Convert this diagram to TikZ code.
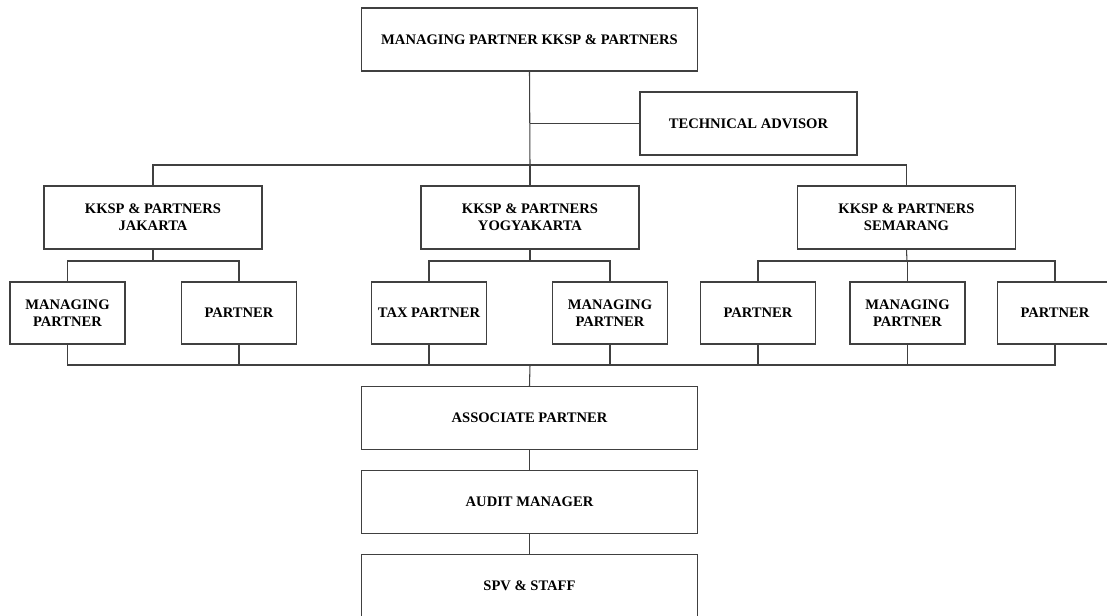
\documentclass[tikz,border=0pt]{standalone}
\usepackage{fontspec}
\setmainfont{Liberation Serif}
\tikzset{
  unit/.style={draw=black!75, line width=0.6pt, align=center, inner sep=1pt,
    font=\fontsize{8.3}{9.6}\selectfont\bfseries},
  wide/.style={unit, minimum width=6.74cm, minimum height=1.26cm},
  office/.style={unit, minimum width=4.36cm, minimum height=1.26cm},
  post/.style={unit, minimum width=2.3cm, minimum height=1.24cm},
  link/.style={draw=black!75, line width=0.6pt}
}
\begin{document}
\begin{tikzpicture}[x=0.02cm,y=-0.02cm]
\useasboundingbox (0,0) rectangle (1107,616);
\begin{scope}
\clip (0,0) rectangle (1107,616);
% top of the firm
\node[wide] (head) at (529.5,39.5) {MANAGING PARTNER KKSP \& PARTNERS};
\node[unit, minimum width=4.34cm, minimum height=1.26cm] (advisor) at (748.5,123.5) {TECHNICAL ADVISOR};

% offices
\node[office] (jkt) at (153,217.5) {KKSP \& PARTNERS\\JAKARTA};
\node[office] (ygy) at (530,217.5) {KKSP \& PARTNERS\\YOGYAKARTA};
\node[office] (smg) at (906.5,217.5) {KKSP \& PARTNERS\\SEMARANG};

% partners of each office
\node[post] (jktmp) at (67.5,313) {MANAGING\\PARTNER};
\node[post] (jktp) at (239,313) {PARTNER};
\node[post] (ygytp) at (429,313) {TAX PARTNER};
\node[post] (ygymp) at (610,313) {MANAGING\\PARTNER};
\node[post] (smgpa) at (758,313) {PARTNER};
\node[post] (smgmp) at (907.5,313) {MANAGING\\PARTNER};
\node[post] (smgpb) at (1055,313) {PARTNER};

% lower levels
\node[wide] (assoc) at (529.5,418) {ASSOCIATE PARTNER};
\node[wide] (audit) at (529.5,502) {AUDIT MANAGER};
\node[wide] (spv) at (529.5,586) {SPV \& STAFF};

\coordinate (hub) at (530,165);
\coordinate (jktbus) at (153,261);
\coordinate (ygybus) at (530,261);
\coordinate (smgbus) at (907,261);
\coordinate (lowbus) at (530,365);

\draw[link] (head.south) -- (hub);
\draw[link] (advisor.west) -- (advisor.west -| hub);
\draw[link] (jkt.north) |- (hub) -| (smg.north);
\draw[link] (hub) -- (ygy.north);

\draw[link] (jkt.south) -- (jktbus);
\draw[link] (jktmp.north) |- (jktbus) -| (jktp.north);
\draw[link] (ygy.south) -- (ygybus);
\draw[link] (ygytp.north) |- (ygybus) -| (ygymp.north);
\draw[link] (smg.south) -- (smgbus);
\draw[link] (smgpa.north) |- (smgbus) -| (smgpb.north);
\draw[link] (smgmp.north) -- (smgmp.north |- smgbus);

\draw[link] (jktmp.south) |- (lowbus) -| (smgpb.south);
\foreach \p in {jktp,ygytp,ygymp,smgpa,smgmp}
  \draw[link] (\p.south) -- (\p.south |- lowbus);
\draw[link] (lowbus) -- (assoc.north);
\draw[link] (assoc.south) -- (audit.north);
\draw[link] (audit.south) -- (spv.north);
\end{scope}
\end{tikzpicture}
\end{document}
